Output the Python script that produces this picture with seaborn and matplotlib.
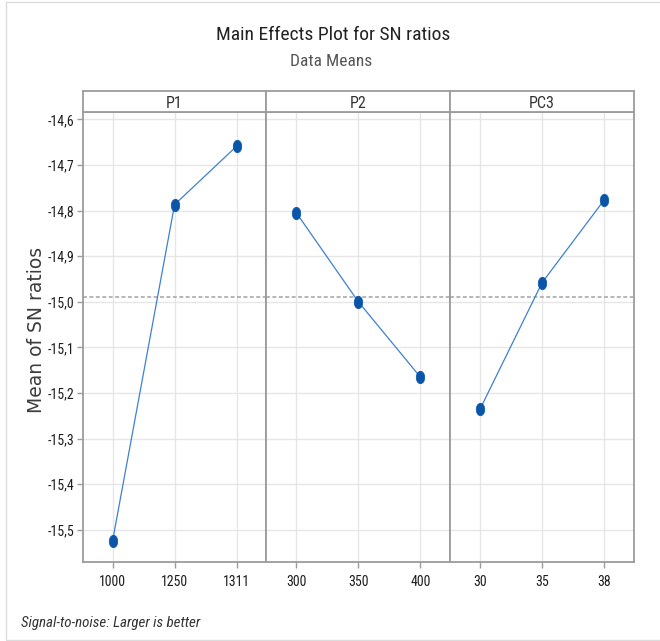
import numpy as np
import pandas as pd
import matplotlib
matplotlib.use("Agg")
import matplotlib.pyplot as plt
import seaborn as sns
from matplotlib.path import Path
from matplotlib.patches import Rectangle
from matplotlib.ticker import FuncFormatter

# Factor names and their levels
factors = ["P1", "P2", "PC3"]
p1_levels = ["1000", "1250", "1311"]
p2_levels = ["300", "350", "400"]
pc3_levels = ["30", "35", "38"]

# Mean SN ratio at each level
p1_sn = [-15.524, -14.787, -14.659]
p2_sn = [-14.805, -15.000, -15.165]
pc3_sn = [-15.235, -14.958, -14.777]

y_ticks = [-14.6, -14.7, -14.8, -14.9, -15.0, -15.1, -15.2, -15.3, -15.4, -15.5]

levels_by_factor = {"P1": p1_levels, "P2": p2_levels, "PC3": pc3_levels}
sn_by_factor = {"P1": p1_sn, "P2": p2_sn, "PC3": pc3_sn}

df = pd.DataFrame(
    [(f, lv, v) for f in factors for lv, v in zip(levels_by_factor[f], sn_by_factor[f])],
    columns=["factor", "level", "sn"],
)
grand_mean = df["sn"].mean()

sns.set_theme(style="white")
narrow = ["Roboto Condensed", "Roboto", "DejaVu Sans"]
plt.rcParams["font.family"] = narrow

W, H = 660, 641
fig = plt.figure(figsize=(W / 100, H / 100), dpi=100)

ax_left, ax_right = 82.7, 634.0
ax_top, ax_bottom = 112.0, 562.3
strip_top = 90.7
panel_w = (ax_right - ax_left) / 3

spine_col = "#9c9c9c"
line_col = "#3f80d2"
mark_col = "#0a55a8"

# slightly tall oval marker
circ = Path.unit_circle()
oval = Path(circ.vertices * np.array([0.68, 1.0]), circ.codes)

ylim = (-15.571, -14.584)
axes = []
for i, f in enumerate(factors):
    x0 = ax_left + i * panel_w
    ax = fig.add_axes([x0 / W, 1 - ax_bottom / H, panel_w / W, (ax_bottom - ax_top) / H])
    axes.append(ax)
    sub = df[df["factor"] == f]
    sns.pointplot(
        data=sub, x="level", y="sn", order=levels_by_factor[f],
        color=mark_col, markers=oval, linestyles="-", errorbar=None,
        linewidth=0.9, markersize=9, ax=ax,
    )
    for ln in ax.lines:
        ln.set_color(line_col)
        ln.set_markerfacecolor(mark_col)
        ln.set_markeredgecolor(mark_col)
        ln.set_markeredgewidth(0.5)
        ln.set_zorder(3)
    ax.axhline(grand_mean, color="#a3a3a3", lw=1.1, ls=(0, (2.6, 1.6)), zorder=2)

    ax.set_xlim(-0.482, 2.482)
    ax.set_ylim(*ylim)
    ax.set_yticks(y_ticks)
    ax.yaxis.set_major_formatter(FuncFormatter(lambda v, _: f"{v:.1f}".replace(".", ",")))
    ax.grid(True, color="#e6e6e6", lw=1.0, zorder=0)
    ax.set_axisbelow(True)
    ax.set_xlabel("")
    ax.set_ylabel("")
    ax.set_facecolor("white")
    for s in ax.spines.values():
        s.set_visible(True)
        s.set_color(spine_col)
        s.set_linewidth(1.3)
    ax.tick_params(axis="x", bottom=True, length=4, width=1, color=spine_col,
                   labelsize=10, labelcolor="#1e1e1e", pad=5)
    if i == 0:
        ax.tick_params(axis="y", left=True, length=4, width=1, color=spine_col,
                       labelsize=10, labelcolor="#1e1e1e", pad=2)
    else:
        ax.tick_params(axis="y", left=False, labelleft=False)

    # factor header strip
    sax = fig.add_axes([x0 / W, 1 - ax_top / H, panel_w / W, (ax_top - strip_top) / H])
    sax.set_xticks([])
    sax.set_yticks([])
    sax.set_facecolor("white")
    for s in sax.spines.values():
        s.set_visible(True)
        s.set_color(spine_col)
        s.set_linewidth(1.3)
    sax.text(0.5, 0.42, f, ha="center", va="center", fontsize=11.5, color="#333333",
             transform=sax.transAxes)

fig.text(333 / W, 1 - 35 / H, "Main Effects Plot for SN ratios", ha="center", va="center",
         fontsize=14, color="#222222")
fig.text(331 / W, 1 - 62 / H, "Data Means", ha="center", va="center",
         fontsize=12.5, color="#555555")
fig.text(37 / W, 1 - 330 / H, "Mean of SN ratios", rotation=90, ha="center", va="center",
         fontsize=13.5, color="#3c3c3c", family=["DejaVu Sans"])
fig.text(20.7 / W, 1 - 623 / H, "Signal-to-noise: Larger is better", ha="left", va="center",
         fontsize=10.8, style="italic", color="#333333")

fig.add_artist(Rectangle((5.5 / W, 1.5 / H), 1.0, (639.5 - 2.0) / H, transform=fig.transFigure,
                         fill=False, ec="#dcdcdc", lw=1.0, clip_on=False))

fig.savefig("out.png", dpi=100)
